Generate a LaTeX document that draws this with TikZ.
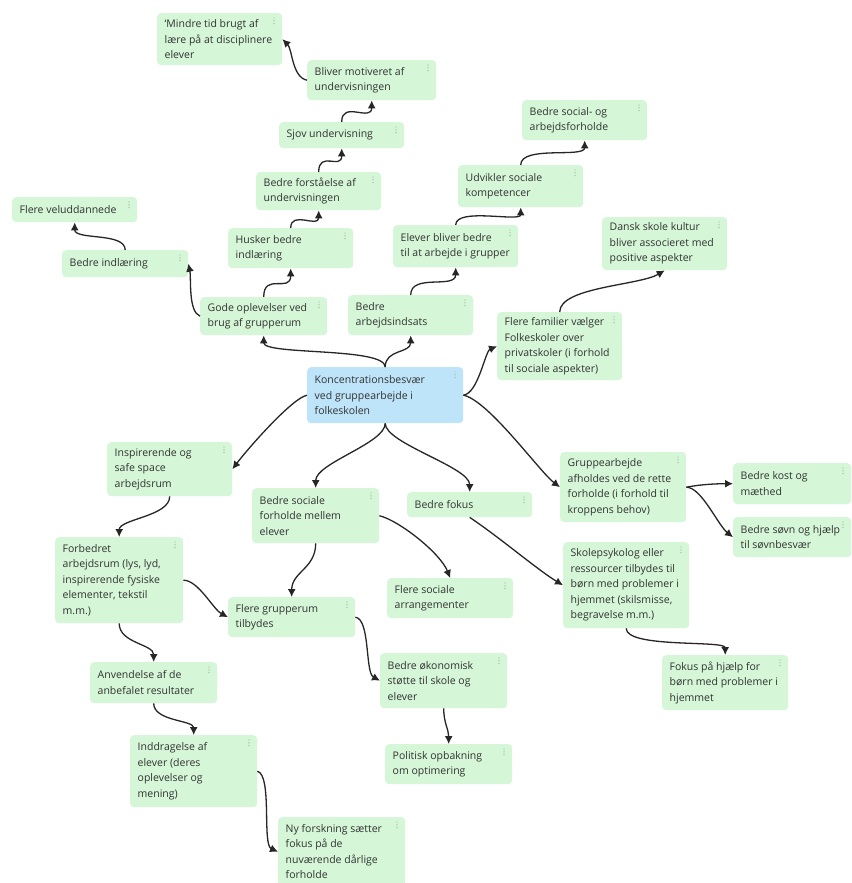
\documentclass[tikz,border=0pt]{standalone}
\usepackage{fontspec}
\setmainfont{Open Sans}
\usetikzlibrary{arrows.meta}
\definecolor{boxg}{RGB}{213,246,215}
\definecolor{boxb}{RGB}{190,228,250}
\definecolor{txtc}{RGB}{50,50,50}
\definecolor{linec}{RGB}{38,38,38}
\definecolor{dotc}{RGB}{160,185,160}
\newcommand\bx[7][gbox]{%
 \pgfmathsetmacro\bxw{#5-#3}\pgfmathsetmacro\bxh{#6-#4}%
 \node[#1, minimum width=\bxw pt, minimum height=\bxh pt, anchor=north west] (#2) at (#3,#4) {};%
 \node[txt, anchor=west] (#2-t) at ([xshift=7.5pt]#2.west) {#7};%
 \foreach \i in {0,1,2}{\fill[dotc] ({#5-8},{#4+5+\i*2.8}) circle (0.7);}%
}
\begin{document}
\begin{tikzpicture}[x=1pt,y=-1pt,
 gbox/.style={fill=boxg, rounded corners=4pt, inner sep=0pt, draw=none},
 cbox/.style={gbox, fill=boxb},
 txt/.style={font=\fontsize{10.5}{15.5}\selectfont, text=txtc, align=left, inner sep=0pt},
 conn/.style={draw=linec, line width=1.3pt, -{Latex[length=8pt,width=8pt]}}]
\fill[white] (0,0) rectangle (851,883);
\useasboundingbox (0,0) rectangle (851,883);

\bx{mindre}{157}{13}{282}{65}{`Mindre tid brugt af\\lære på at disciplinere\\elever}
\bx{motiv}{307}{60}{436}{100}{Bliver motiveret af\\undervisningen}
\bx{sjov}{279}{122}{404}{148}{Sjov undervisning}
\bx{forst}{256}{172}{381}{210}{Bedre forståelse af\\undervisningen}
\bx{velud}{12}{197}{137}{222}{Flere veluddannede}
\bx{indl}{62}{250}{188}{277}{Bedre indlæring}
\bx{husk}{228}{228}{353}{268}{Husker bedre\\indlæring}
\bx{gode}{200}{297}{327}{335}{Gode oplevelser ved\\brug af grupperum}
\bx{arbind}{348}{295}{473}{335}{Bedre\\arbejdsindsats}
\bx{elever}{393}{225}{518}{267}{Elever bliver bedre\\til at arbejde i grupper}
\bx{udv}{458}{165}{583}{207}{Udvikler sociale\\kompetencer}
\bx{social}{522}{100}{647}{140}{Bedre social- og\\arbejdsforholde}
\bx{dansk}{602}{217}{727}{270}{Dansk skole kultur\\bliver associeret med\\positive aspekter}
\bx{famil}{497}{312}{622}{380}{Flere familier vælger\\Folkeskoler over\\privatskoler (i forhold\\til sociale aspekter)}
\bx[cbox]{center}{307}{367}{463}{423}{Koncentrationsbesvær\\ved gruppearbejde i\\folkeskolen}
\bx{insp}{107}{442}{232}{496}{Inspirerende og\\safe space\\arbejdsrum}
\bx{bsoc}{252}{488}{379}{543}{Bedre sociale\\forholde mellem\\elever}
\bx{fokus}{407}{492}{532}{517}{Bedre fokus}
\bx{grupp}{560}{452}{686}{522}{Gruppearbejde\\afholdes ved de rette\\forholde (i forhold til\\kroppens behov)}
\bx{kost}{733}{463}{851}{504}{Bedre kost og\\mæthed}
\bx{sovn}{733}{517}{851}{557}{Bedre søvn og hjælp\\til søvnbesvær}
\bx{forb}{55}{537}{183}{623}{Forbedret\\arbejdsrum (lys, lyd,\\inspirerende fysiske\\elementer, tekstil\\m.m.)}
\bx{fgrp}{228}{597}{355}{637}{Flere grupperum\\tilbydes}
\bx{farr}{387}{578}{513}{618}{Flere sociale\\arrangementer}
\bx{skole}{563}{542}{689}{628}{Skolepsykolog eller\\ressourcer tilbydes til\\børn med problemer i\\hjemmet (skilsmisse,\\begravelse m.m.)}
\bx{anv}{90}{662}{217}{703}{Anvendelse af de\\anbefalet resultater}
\bx{okon}{380}{653}{507}{708}{Bedre økonomisk\\støtte til skole og\\elever}
\bx{polit}{385}{744}{512}{784}{Politisk opbakning\\om optimering}
\bx{fhj}{662}{655}{788}{710}{Fokus på hjælp for\\børn med problemer i\\hjemmet}
\bx{inddr}{130}{735}{257}{807}{Inddragelse af\\elever (deres\\oplevelser og\\mening)}
\bx{ny}{278}{817}{405}{886}{Ny forskning sætter\\fokus på de\\nuværende dårlige\\forholde}

\draw[conn] (center.north) .. controls +(0,-20) and +(0,20) .. (gode.south);
\draw[conn] (center.north) .. controls +(0,-18) and +(0,18) .. (arbind.south);
\draw[conn] (gode.west) .. controls +(-12,-5) and +(3,15) .. (indl.east);
\draw[conn] (indl.north) .. controls +(0,-18) and +(0,18) .. (velud.south);
\draw[conn] (gode.north) .. controls +(0,-25) and +(0,25) .. (husk.south);
\draw[conn] (husk.north) .. controls +(0,-18) and +(0,18) .. (forst.south);
\draw[conn] (forst.north) .. controls +(0,-22) and +(0,22) .. (sjov.south);
\draw[conn] (sjov.north) .. controls +(0,-22) and +(0,22) .. (motiv.south);
\draw[conn] (motiv.west) .. controls +(-15,-3) and +(10,10) .. (mindre.east);
\draw[conn] (arbind.north) .. controls +(0,-22) and +(0,22) .. (elever.south);
\draw[conn] (elever.north) .. controls +(0,-18) and +(0,15) .. (udv.south);
\draw[conn] (udv.north) .. controls +(0,-20) and +(0,18) .. (social.south);
\draw[conn] (center.east) .. controls +(15,-2) and +(-12,5) .. (famil.west);
\draw[conn] (famil.north) .. controls +(0,-25) and +(-25,15) .. (dansk.south);
\draw[conn] (center.east) .. controls +(25,5) and +(-20,-15) .. (grupp.west);
\draw[conn] (grupp.east) .. controls +(15,-3) and +(-15,0) .. (kost.west);
\draw[conn] (grupp.east) .. controls +(15,0) and +(-15,-12) .. (sovn.west);
\draw[conn] (center.west) .. controls +(-15,3) and +(15,-20) .. (insp.east);
\draw[conn] (center.south) .. controls +(0,20) and +(0,-25) .. (bsoc.north);
\draw[conn] (center.south) .. controls +(0,20) and +(0,-25) .. (fokus.north);
\draw[conn] (bsoc.east) .. controls +(20,5) and +(-10,-25) .. (farr.north);
\draw[conn] (bsoc.south) .. controls +(0,25) and +(0,-25) .. (fgrp.north);
\draw[conn] (insp.south) .. controls +(0,20) and +(0,-18) .. (forb.north);
\draw[conn] (forb.east) .. controls +(15,0) and +(-15,-8) .. (fgrp.west);
\draw[conn] (forb.south) .. controls +(0,20) and +(0,-18) .. (anv.north);
\draw[conn] (anv.south) .. controls +(0,18) and +(0,-15) .. (inddr.north);
\draw[conn] (inddr.east) .. controls +(15,4) and +(-16,-7) .. (ny.west);
\draw[conn] (fgrp.east) .. controls +(15,2) and +(-15,-8) .. (okon.west);
\draw[conn] (okon.south) .. controls +(0,15) and +(0,-15) .. (polit.north);
\draw[conn] (fokus.south) .. controls +(30,20) and +(-25,-15) .. (skole.west);
\draw[conn] (skole.south) .. controls +(0,20) and +(0,-15) .. (fhj.north);
\end{tikzpicture}
\end{document}
